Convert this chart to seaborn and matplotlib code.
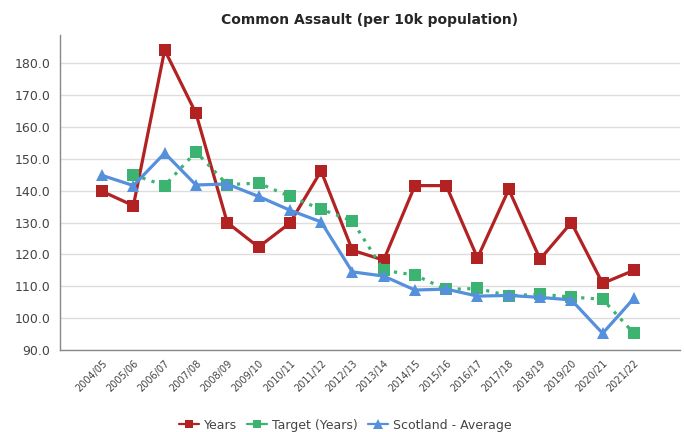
import pandas as pd
import matplotlib
matplotlib.use("Agg")
import matplotlib.pyplot as plt
from matplotlib.lines import Line2D
import seaborn as sns

years = ["2004/05", "2005/06", "2006/07", "2007/08", "2008/09", "2009/10",
         "2010/11", "2011/12", "2012/13", "2013/14", "2014/15", "2015/16",
         "2016/17", "2017/18", "2018/19", "2019/20", "2020/21", "2021/22"]
years_vals = [139.8, 135.3, 184.2, 164.3, 130.0, 122.3, 129.8, 146.2, 121.3,
              118.2, 141.6, 141.6, 118.9, 140.4, 118.5, 130.0, 110.9, 115.0]
target_vals = [None, 145.0, 141.6, 152.2, 141.9, 142.4, 138.2, 134.2, 130.5,
               115.0, 113.5, 109.0, 109.3, 107.0, 107.5, 106.6, 105.9, 95.2]
scotland_vals = [144.8, 141.6, 151.8, 141.8, 142.1, 138.2, 133.9, 130.2, 114.5,
                 113.2, 108.8, 109.1, 106.9, 107.1, 106.5, 105.7, 95.2, 106.2]

df = pd.DataFrame({"idx": range(len(years)), "year": years,
                   "Years": years_vals, "Target (Years)": target_vals,
                   "Scotland - Average": scotland_vals})

sns.set_style("white")
plt.rcParams['font.family'] = ['DejaVu Sans']

fig = plt.figure(figsize=(6.84, 4.32), dpi=100)
ax = fig.add_axes([0.088, 0.19, 0.906, 0.729])

red, green, blue = "#b22222", "#3cb371", "#5590dc"

sns.lineplot(data=df, x="idx", y="Years", ax=ax, color=red, linewidth=2.3,
             marker="s", markersize=8, markeredgewidth=0, legend=False)
sns.lineplot(data=df.dropna(subset=["Target (Years)"]), x="idx", y="Target (Years)", ax=ax,
             color=green, linewidth=2.3, linestyle=(0, (1, 2)),
             marker="s", markersize=8, markeredgewidth=0, legend=False)
sns.lineplot(data=df, x="idx", y="Scotland - Average", ax=ax, color=blue, linewidth=2.3,
             marker="^", markersize=9, markeredgewidth=0, legend=False)

ax.set_xlim(-1.34, 18.47)
ax.set_ylim(90, 188.9)
ax.set_yticks(range(90, 181, 10))
ax.set_yticklabels([f"{v:.1f}" for v in range(90, 181, 10)], fontsize=9, color="#444444")
ax.set_xticks(df["idx"])
ax.set_xticklabels(years, rotation=45, ha="right", rotation_mode="anchor",
                   fontsize=7, color="#444444")
ax.tick_params(axis="x", length=4, color="#888888", pad=2)
ax.tick_params(axis="y", length=4, color="#888888", pad=3)
ax.grid(axis="y", color="#dddddd", linewidth=1)
ax.set_axisbelow(True)
sns.despine(ax=ax)
for s in ["left", "bottom"]:
    ax.spines[s].set_color("#888888")
    ax.spines[s].set_linewidth(1)
ax.set_xlabel("")
ax.set_ylabel("")
ax.set_title("Common Assault (per 10k population)", fontsize=10, fontweight="bold", pad=8)

handles = [
    Line2D([], [], color=red, linewidth=1.6, marker="s", markersize=6, markeredgewidth=0),
    Line2D([], [], color=green, linewidth=1.6, marker="s", markersize=6, markeredgewidth=0),
    Line2D([], [], color=blue, linewidth=1.6, marker="^", markersize=7, markeredgewidth=0),
]
labels = ["Years", "Target (Years)", "Scotland - Average"]
fig.legend(handles, labels, loc="lower center", bbox_to_anchor=(0.505, -0.025), ncol=3,
           frameon=False, fontsize=9, handlelength=1.6, handletextpad=0.4,
           columnspacing=0.8, labelcolor="#444444")

fig.savefig("out.png", dpi=100)
